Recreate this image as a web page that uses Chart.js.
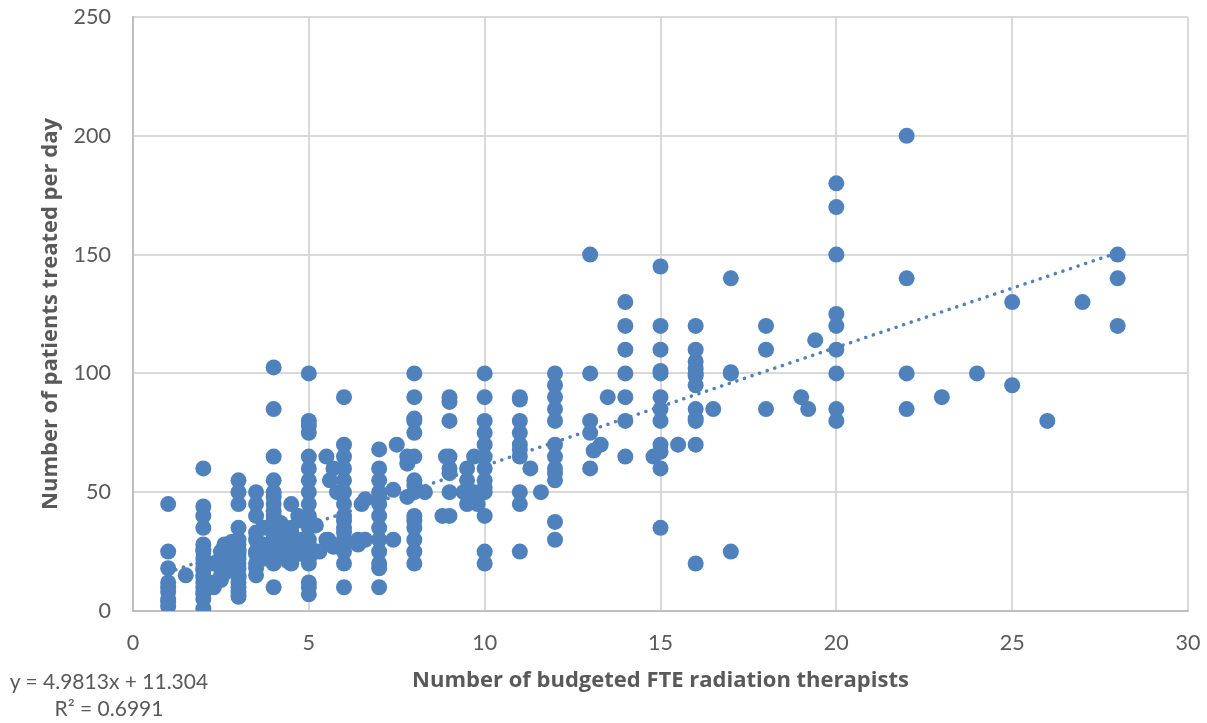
<!DOCTYPE html>
<html>
<head>
<meta charset="utf-8">
<script src="https://cdn.jsdelivr.net/npm/chart.js@4"></script>
<style>
html,body{margin:0;padding:0;background:#fff;overflow:hidden}
#wrap{position:relative;width:1207px;height:723px}
canvas{position:absolute;left:0;top:0}
.eq{position:absolute;left:-1px;width:220px;text-align:center;font:21px Lato,sans-serif;color:#595959;line-height:24px}
</style>
</head>
<body>
<div id="wrap">
<canvas id="c" width="1207" height="723"></canvas>
<div class="eq" style="top:669px">y = 4.9813x + 11.304</div>
<div class="eq" style="top:696px">R² = 0.6991</div>
</div>
<script>
const xTitle = "Number of budgeted FTE radiation therapists";
const yTitle = "Number of patients treated per day";
const xTicks = [0,5,10,15,20,25,30];
const yTicks = [0,50,100,150,200,250];
const trendX = [1, 28];
const trendY = [16.3, 150.8];

const budgetedFte = [
 1,1.5,2,2.3,2.5,2.6,2.7,2.8,3,3.5,3.7,4,4.2,4.4,4.5,4.7,4.8,5,5.2,5.3,5.5,5.55,5.6,5.7,5.8,
 6,6.4,6.5,6.6,7,7.4,7.5,7.8,8,8.3,8.8,8.9,9,9.4,9.5,9.7,9.8,10,11,11.3,11.6,12,13,13.1,13.3,13.5,
 14,14.8,15,15.5,16,16.5,17,18,19,19.2,19.4,20,22,23,24,25,26,27,28
];
const patientsPerDay = [
 [45,25,18,12,10,8,5,4,2],
 [15],
 [60,44,40,35,28,26,25,22,20,18,17,15,14,12,10,8,7,5,1],
 [12,20,10],
 [15,18,20,22,25,13],
 [27,28,16],
 [22,19,25],
 [29,24,18],
 [55,50,45,35,30,28,26,25,24,22,20,18,15,14,12,10,8,6],
 [50,45,40,33,30,25,24,20,18,15],
 [28,22,35],
 [102.5,85,65,55,50,48,45,42,40,38,36,35,33,32,30,28,26,25,22,20,10],
 [37,30,24],
 [32,26,21],
 [45,35,33,30,28,25,22,20],
 [40,26],
 [30,24,38],
 [100,80,78,75,65,60,55,50,45,40,38,35,30,28,25,22,20,12,10,7],
 [36,25],
 [25],
 [65,30],
 [30],
 [55],
 [60,27],
 [50],
 [90,70,65,60,55,50,45,40,38,35,33,30,28,25,20,10],
 [30,28],
 [45],
 [47,30],
 [68,60,55,50,48,45,40,35,30,25,20,18,10],
 [51,30],
 [70],
 [65,62,48],
 [100,90,81,80,75,65,55,53,50,40,38,35,30,25,20],
 [50],
 [40],
 [65],
 [90,88,80,65,60,58,50,40],
 [50],
 [60,55,50,45],
 [65,50],
 [45],
 [100,90,80,75,70,65,60,55,52,50,40,25,20],
 [90,89,80,75,70,68,65,50,45,25],
 [60],
 [50],
 [100,95,90,85,80,70,65,60,58,55,37.5,30],
 [150,100,80,75,60],
 [67.5],
 [70],
 [90],
 [130,120,110,100,90,80,65],
 [65],
 [145,120,110,101,100,90,85,80,70,67,60,35],
 [70],
 [120,110,105,102,100,99,95,85,81,80,70,20],
 [85],
 [140,100.5,100,25],
 [120,110,85],
 [90],
 [85],
 [114],
 [180,170,150,125,120,110,100,85,80],
 [200,140,100,85],
 [90],
 [100],
 [130,95],
 [80],
 [130],
 [150,140,120]
];

const points = [];
budgetedFte.forEach((x, i) => patientsPerDay[i].forEach(y => points.push({x, y})));
const trend = trendX.map((x, i) => ({x, y: trendY[i]}));

new Chart(document.getElementById('c'), {
  type: 'scatter',
  data: { datasets: [
    { data: points, backgroundColor: '#4F81BD', borderWidth: 0, pointRadius: 8, pointHoverRadius: 8, order: 2 },
    { data: trend, showLine: true, pointRadius: 0, borderColor: '#4F81BD', borderWidth: 3.5,
      borderDash: [0.1, 7.9], borderCapStyle: 'round', order: 1 }
  ]},
  options: {
    responsive: false, animation: false,
    layout: { padding: { top: 17, right: 19, left: 0, bottom: 0 } },
    plugins: { legend: { display: false }, title: { display: false }, tooltip: { enabled: false } },
    scales: {
      x: {
        type: 'linear', min: 0, max: 30,
        afterFit(s) { s.height = 112; s.paddingLeft = 0; s.paddingRight = 0; },
        afterBuildTicks(s) { s.ticks = xTicks.map(v => ({value: v})); },
        grid: { color: '#D9D9D9', lineWidth: 2, drawTicks: false },
        border: { color: '#BFBFBF', width: 2 },
        ticks: { padding: 19, maxRotation: 0, color: '#595959', font: { family: 'Lato', size: 21.5 } },
        title: { display: true, text: xTitle, color: '#595959', padding: { top: 0, bottom: 29 },
                 font: { family: 'Open Sans', size: 22, weight: 'bold' } }
      },
      y: {
        type: 'linear', min: 0, max: 250,
        afterFit(s) { s.width = 133; s.paddingTop = 0; s.paddingBottom = 0; },
        afterBuildTicks(s) { s.ticks = yTicks.map(v => ({value: v})); },
        grid: { color: '#D9D9D9', lineWidth: 2, drawTicks: false },
        border: { color: '#BFBFBF', width: 2 },
        ticks: { padding: 22, color: '#595959', font: { family: 'Lato', size: 21.5 } },
        title: { display: true, text: yTitle, color: '#595959', padding: { top: 38, bottom: 0 },
                 font: { family: 'Open Sans', size: 22, weight: 'bold' } }
      }
    }
  }
});
</script>
</body>
</html>
